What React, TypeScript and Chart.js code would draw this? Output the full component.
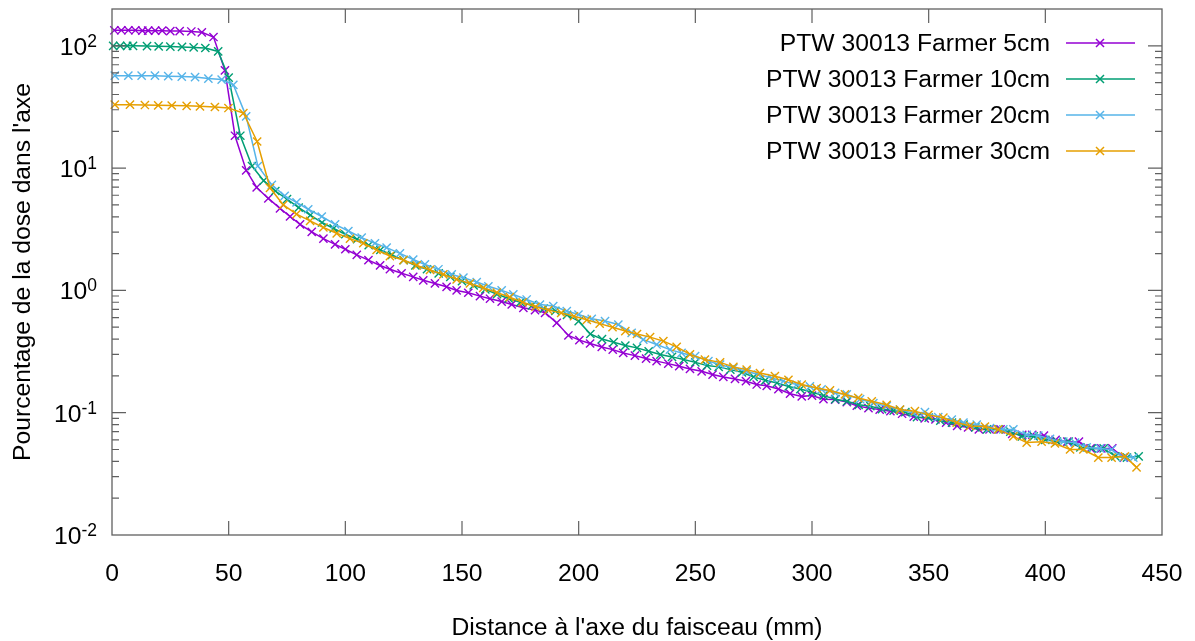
import React, { useEffect, useRef } from "react";
import { Chart, registerables } from "chart.js";

Chart.register(...registerables);

// ---------- data ----------
const seriesLabels = [
  "PTW 30013 Farmer 5cm",
  "PTW 30013 Farmer 10cm",
  "PTW 30013 Farmer 20cm",
  "PTW 30013 Farmer 30cm",
];
const seriesColors = ["#9400d3", "#009e73", "#56b4e9", "#e69f00"];

const x5 = [
  1, 4, 7, 10, 13, 15.5, 18.5, 21.5, 25, 29,
  34, 38.5, 43.5, 48.4, 52.7, 57.5, 62, 67, 72, 76.3,
  80.6, 85.6, 90.6, 95.6, 100, 104.9, 109.9, 114.9, 119.1, 124.1,
  129.1, 133.4, 138.4, 143.4, 147.7, 152.7, 157.7, 162, 167, 171.3,
  176.3, 181.3, 185.6, 190.6, 195.6, 200.3, 204.9, 209.9, 214.6, 219.1,
  224.1, 228.9, 233.4, 238.4, 243.1, 247.7, 252.7, 257.4, 262, 267,
  271.7, 276.3, 280.6, 285.6, 290.6, 295.6, 300, 304.9, 309.9, 314.9,
  319.2, 324.2, 329, 333.6, 338.6, 343.6, 348.3, 352.9, 357.5, 362.2,
  366.9, 371.5, 376.1, 380.8, 385.8, 390.1, 394.4, 399.4, 404.4, 409.4,
  414.4, 419.4, 424, 428.7, 433.7,
];
const y5 = [
  134, 134, 134, 134, 133, 133, 133, 133, 132, 132,
  131, 129, 118, 63, 18.4, 9.6, 6.95, 5.65, 4.68, 4.02,
  3.47, 3.01, 2.65, 2.38, 2.17, 1.95, 1.77, 1.6, 1.49, 1.38,
  1.29, 1.21, 1.14, 1.07, 1.0, 0.957, 0.898, 0.855, 0.81, 0.767,
  0.721, 0.69, 0.656, 0.543, 0.428, 0.392, 0.368, 0.345, 0.328, 0.308,
  0.293, 0.277, 0.264, 0.252, 0.24, 0.228, 0.218, 0.205, 0.196, 0.189,
  0.181, 0.17, 0.166, 0.156, 0.143, 0.136, 0.138, 0.129, 0.128, 0.122,
  0.114, 0.109, 0.106, 0.103, 0.098, 0.093, 0.09, 0.088, 0.083, 0.078,
  0.076, 0.073, 0.073, 0.073, 0.067, 0.066, 0.066, 0.065, 0.06, 0.058,
  0.058, 0.051, 0.051, 0.051, 0.043,
];

const x10 = [
  0.5, 3.5, 6.5, 9, 15, 20, 25, 30, 35, 40,
  45.5, 50, 55, 60, 65, 70, 75, 80, 85, 90,
  95, 100, 105, 110, 115, 120, 125, 130, 135, 140,
  145, 150, 155, 160, 165, 170, 175, 180, 185, 190,
  195, 200, 205, 210, 215, 220, 225, 230, 235, 240,
  245, 250, 255, 260, 265, 270, 275, 280, 285, 290,
  295, 300, 305, 310, 315, 320, 325, 330, 335, 340,
  345, 350, 355, 360, 365, 370, 375, 380, 385, 390,
  395, 400, 405, 410, 415, 420, 425, 430, 435, 440,
];
const y10 = [
  100, 100, 100, 100, 99.5, 99, 98.5, 98, 97, 96,
  90, 55, 18.4, 10.4, 7.9, 6.5, 5.57, 4.76, 4.12, 3.59,
  3.21, 2.88, 2.62, 2.34, 2.14, 1.95, 1.77, 1.6, 1.49, 1.38,
  1.29, 1.19, 1.1, 1.02, 0.93, 0.86, 0.8, 0.755, 0.71, 0.68,
  0.63, 0.56, 0.44, 0.4, 0.377, 0.354, 0.339, 0.318, 0.299, 0.286,
  0.272, 0.258, 0.243, 0.237, 0.225, 0.214, 0.196, 0.184, 0.175, 0.164,
  0.156, 0.147, 0.138, 0.129, 0.124, 0.116, 0.113, 0.107, 0.104, 0.101,
  0.092, 0.091, 0.086, 0.083, 0.08, 0.076, 0.073, 0.073, 0.07, 0.064,
  0.064, 0.06, 0.058, 0.058, 0.052, 0.051, 0.051, 0.044, 0.043, 0.044,
];

const x20 = [
  1.2, 7, 12.7, 18.4, 24.1, 29.9, 35.6, 41.3, 47, 52,
  57.5, 62.5, 68.5, 74, 79.1, 84.1, 89.9, 95.6, 101.3, 107,
  112.7, 117.7, 123.4, 129.1, 134.1, 139.9, 145.6, 150.6, 156.3, 161.3,
  167, 172, 177.7, 183.4, 189.1, 194.9, 199.9, 205.6, 211.3, 217,
  222.7, 227.7, 233.4, 239.1, 244.1, 249.9, 255.6, 260.6, 266.3, 272,
  277, 282.7, 287.7, 293.4, 299.1, 304.1, 309.9, 314.9, 320.6, 326.3,
  332, 337.7, 343.4, 348.4, 354.1, 359.9, 364.9, 370.6, 376.3, 382,
  386.3, 392, 397, 402, 407.7, 412.7, 417.7, 423.4, 428.4, 433.4,
  437.7,
];
const y20 = [
  57, 57, 57, 57, 56.5, 56, 55.5, 54, 53, 48,
  26.5, 10.4, 7.3, 5.93, 5.24, 4.61, 4.02, 3.47, 3.06, 2.7,
  2.43, 2.24, 2.01, 1.79, 1.63, 1.49, 1.35, 1.27, 1.17, 1.08,
  1.0, 0.927, 0.843, 0.767, 0.745, 0.678, 0.635, 0.586, 0.561, 0.526,
  0.45, 0.396, 0.361, 0.328, 0.308, 0.29, 0.264, 0.247, 0.232, 0.218,
  0.205, 0.192, 0.181, 0.17, 0.164, 0.155, 0.145, 0.141, 0.129, 0.12,
  0.113, 0.106, 0.099, 0.101, 0.092, 0.088, 0.083, 0.08, 0.075, 0.073,
  0.073, 0.066, 0.065, 0.061, 0.058, 0.057, 0.052, 0.051, 0.05, 0.043,
  0.043,
];

const x30 = [
  1.2, 7.7, 14.1, 19.8, 25.6, 32, 37.7, 44.1, 49.9, 56.3,
  62.2, 67.7, 73.4, 79.1, 84.9, 90.6, 96.3, 102, 107.7, 113.4,
  119.1, 124.9, 130.6, 136.3, 142, 147.7, 153.4, 159.1, 164.9, 170.5,
  176, 181.5, 187, 192.5, 198, 203.5, 209, 214.5, 220, 225,
  230.6, 236.3, 242, 247.7, 254.1, 260.6, 266.3, 272, 277.7, 284.1,
  289.9, 295.6, 302, 307.7, 314.1, 319.8, 325.6, 332, 337.7, 344.1,
  349.9, 356.3, 362, 367.7, 374.1, 379.8, 386.3, 392, 398.4, 404.1,
  410.6, 416.3, 422.7, 428.4, 434.1, 439.1,
];
const y30 = [
  33, 33, 32.8, 32.6, 32.5, 32.3, 32, 31.6, 31, 28.2,
  16.5, 6.9, 5.0, 4.2, 3.7, 3.27, 2.93, 2.65, 2.43, 2.14,
  1.91, 1.77, 1.6, 1.47, 1.35, 1.23, 1.14, 1.05, 0.96, 0.88,
  0.8, 0.735, 0.69, 0.655, 0.615, 0.575, 0.535, 0.5, 0.465, 0.44,
  0.415, 0.385, 0.345, 0.3, 0.272, 0.258, 0.237, 0.225, 0.211, 0.199,
  0.186, 0.17, 0.159, 0.152, 0.141, 0.132, 0.124, 0.116, 0.106, 0.103,
  0.096, 0.091, 0.083, 0.078, 0.077, 0.073, 0.064, 0.057, 0.058, 0.056,
  0.05, 0.05, 0.043, 0.043, 0.044, 0.0357,
];

const seriesX = [x5, x10, x20, x30];
const seriesY = [y5, y10, y20, y30];

const xTickValues = [0, 50, 100, 150, 200, 250, 300, 350, 400, 450];
const yTickExponents = [-2, -1, 0, 1, 2];
const xMin = 0;
const xMax = 450;
const yMin = 0.01;
const yMax = 200;

const xTitle = "Distance à l'axe du faisceau (mm)";
const yTitle = "Pourcentage de la dose dans l'axe";

// ---------- styling ----------
const FONT = '"Liberation Sans", Arial, Helvetica, sans-serif';
const FONT_SIZE = 24.7;
const AXIS_COLOR = "#606060";

function drawCross(ctx: CanvasRenderingContext2D, cx: number, cy: number, r: number) {
  ctx.beginPath();
  ctx.moveTo(cx - r, cy - r);
  ctx.lineTo(cx + r, cy + r);
  ctx.moveTo(cx - r, cy + r);
  ctx.lineTo(cx + r, cy - r);
  ctx.stroke();
}

const framePlugin = {
  id: "gnuplotFrame",
  afterDraw(chart: any) {
    const ctx: CanvasRenderingContext2D = chart.ctx;
    const a = chart.chartArea;
    const xs = chart.scales.x;
    const ys = chart.scales.y;
    ctx.save();

    // ticks
    ctx.strokeStyle = AXIS_COLOR;
    ctx.lineWidth = 1.2;
    ctx.beginPath();
    for (const v of xTickValues) {
      const p = xs.getPixelForValue(v);
      if (v !== xMin && v !== xMax) {
        ctx.moveTo(p, a.bottom);
        ctx.lineTo(p, a.bottom - 14);
        ctx.moveTo(p, a.top);
        ctx.lineTo(p, a.top + 14);
      }
    }
    for (const e of yTickExponents) {
      for (let m = 1; m <= 9; m++) {
        const v = m * Math.pow(10, e);
        if (v <= yMin * 1.0001 || v >= yMax * 0.9999) continue;
        const p = ys.getPixelForValue(v);
        const len = m === 1 ? 14 : 7;
        ctx.moveTo(a.left, p);
        ctx.lineTo(a.left + len, p);
        ctx.moveTo(a.right, p);
        ctx.lineTo(a.right - len, p);
      }
    }
    ctx.stroke();

    // border
    ctx.lineWidth = 1.3;
    ctx.strokeRect(a.left, a.top, a.right - a.left, a.bottom - a.top);

    // x tick labels
    ctx.fillStyle = "#000";
    ctx.font = `${FONT_SIZE}px ${FONT}`;
    ctx.textAlign = "center";
    ctx.textBaseline = "middle";
    for (const v of xTickValues) {
      ctx.fillText(String(v), xs.getPixelForValue(v), a.bottom + 39);
    }

    // y tick labels: 10^e
    for (const e of yTickExponents) {
      const p = ys.getPixelForValue(Math.pow(10, e));
      const sup = String(e);
      ctx.font = `17.5px ${FONT}`;
      const supW = ctx.measureText(sup).width;
      const rightEdge = a.left - 15;
      ctx.textAlign = "right";
      ctx.textBaseline = "middle";
      ctx.fillText(sup, rightEdge, p - 4);
      ctx.font = `${FONT_SIZE}px ${FONT}`;
      ctx.fillText("10", rightEdge - supW, p + 2);
    }

    // axis titles
    ctx.font = `${FONT_SIZE}px ${FONT}`;
    ctx.textAlign = "center";
    ctx.textBaseline = "middle";
    ctx.fillText(xTitle, (a.left + a.right) / 2, 628);
    ctx.save();
    ctx.translate(23, (a.top + a.bottom) / 2);
    ctx.rotate(-Math.PI / 2);
    ctx.fillText(yTitle, 0, 0);
    ctx.restore();

    // legend
    const rowY = [43, 79, 115, 151];
    for (let i = 0; i < seriesLabels.length; i++) {
      const y = rowY[i];
      ctx.fillStyle = "#000";
      ctx.font = `${FONT_SIZE}px ${FONT}`;
      ctx.textAlign = "right";
      ctx.textBaseline = "middle";
      ctx.fillText(seriesLabels[i], 1050, y + 1);
      ctx.strokeStyle = seriesColors[i];
      ctx.lineWidth = 1.5;
      ctx.beginPath();
      ctx.moveTo(1066, y);
      ctx.lineTo(1135, y);
      ctx.stroke();
      drawCross(ctx, 1100, y, 4);
    }

    ctx.restore();
  },
};

export default function App() {
  const ref = useRef<HTMLCanvasElement | null>(null);

  useEffect(() => {
    const canvas = ref.current;
    if (!canvas) return;
    const datasets = seriesLabels.map((label, i) => ({
      label,
      data: seriesX[i].map((x, j) => ({ x, y: seriesY[i][j] })),
      borderColor: seriesColors[i],
      backgroundColor: seriesColors[i],
      borderWidth: 1.5,
      pointStyle: "crossRot" as const,
      pointRadius: 5.8,
      pointHoverRadius: 5.8,
      pointBorderWidth: 1.4,
      tension: 0,
      fill: false,
      clip: false as any,
      order: 3 - i,
    }));
    const chart = new Chart(canvas, {
      type: "line",
      data: { datasets },
      options: {
        responsive: false,
        animation: false,
        devicePixelRatio: 1,
        events: [],
        layout: { padding: { left: 112, top: 9, right: 33, bottom: 106 } },
        scales: {
          x: { type: "linear", min: xMin, max: xMax, display: false },
          y: { type: "logarithmic", min: yMin, max: yMax, display: false },
        },
        plugins: {
          legend: { display: false },
          tooltip: { enabled: false },
          title: { display: false },
        },
      },
      plugins: [framePlugin],
    } as any);
    return () => chart.destroy();
  }, []);

  return (
    <div
      style={{
        position: "fixed",
        left: 0,
        top: 0,
        width: 1195,
        height: 641,
        background: "#ffffff",
      }}
    >
      <canvas ref={ref} width={1195} height={641} style={{ display: "block" }} />
    </div>
  );
}
